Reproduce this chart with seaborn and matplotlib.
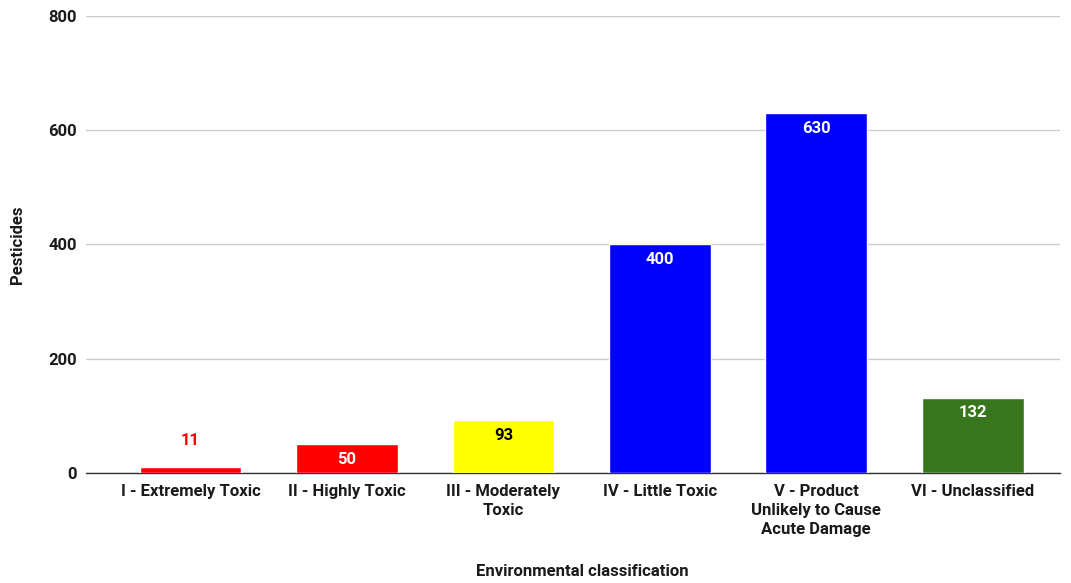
import matplotlib
matplotlib.use("Agg")
import matplotlib.pyplot as plt
import seaborn as sns
import pandas as pd

categories = [
    "I - Extremely Toxic",
    "II - Highly Toxic",
    "III - Moderately\nToxic",
    "IV - Little Toxic",
    "V - Product\nUnlikely to Cause\nAcute Damage",
    "VI - Unclassified",
]
values = [11, 50, 93, 400, 630, 132]
bar_colors = ["#ff0000", "#ff0000", "#ffff00", "#0000ff", "#0000ff", "#38761d"]
label_colors = ["#ff0000", "#ffffff", "#000000", "#ffffff", "#ffffff", "#ffffff"]
y_ticks = [0, 200, 400, 600, 800]

sns.set_theme(style="white")
plt.rcParams["font.family"] = ["Roboto", "DejaVu Sans"]

FS = 12
df = pd.DataFrame({"cls": categories, "n": values})

fig = plt.figure(figsize=(10.71, 5.83), dpi=100)
ax = fig.add_axes([0.080, 0.1887, 0.910, 0.7840])

sns.barplot(data=df, x="cls", y="n", hue="cls", palette=bar_colors,
            legend=False, width=0.65, saturation=1, ax=ax, zorder=3)

ax.set_ylim(0, 800)
ax.set_yticks(y_ticks)
ax.set_xlim(-0.67, 5.56)
ax.yaxis.grid(True, color="#cccccc", linewidth=1, zorder=0)
ax.set_axisbelow(True)
for side in ["top", "right", "left"]:
    ax.spines[side].set_visible(False)
ax.spines["bottom"].set_color("#333333")
ax.spines["bottom"].set_linewidth(1)
ax.tick_params(axis="both", length=0, labelsize=FS)
ax.tick_params(axis="y", pad=6.5)
ax.tick_params(axis="x", pad=8)
for lab in ax.get_xticklabels() + ax.get_yticklabels():
    lab.set_fontweight("bold")
    lab.set_color("#1a1a1a")
for lab in ax.get_xticklabels():
    lab.set_linespacing(1.32)
    lab.set_verticalalignment("top")

ax.set_xlabel("")
fig.text(582 / 1071, 1 - 572 / 583, "Environmental classification",
         ha="center", va="center", fontsize=FS, fontweight="bold", color="#1a1a1a")
ax.set_ylabel("")
fig.text(18 / 1071, 0.5 * 0.784 + 0.1887, "Pesticides", rotation=90,
         ha="center", va="center", fontsize=FS, fontweight="bold", color="#1a1a1a")

for i, (v, c) in enumerate(zip(values, label_colors)):
    if v < 30:
        ax.annotate(str(v), (i, v), xytext=(0, 19), textcoords="offset points",
                    ha="center", va="center", fontsize=FS, fontweight="bold",
                    color=c, zorder=4)
    else:
        ax.annotate(str(v), (i, v), xytext=(0, -11), textcoords="offset points",
                    ha="center", va="center", fontsize=FS, fontweight="bold",
                    color=c, zorder=4)

fig.savefig("out.png", dpi=100)
